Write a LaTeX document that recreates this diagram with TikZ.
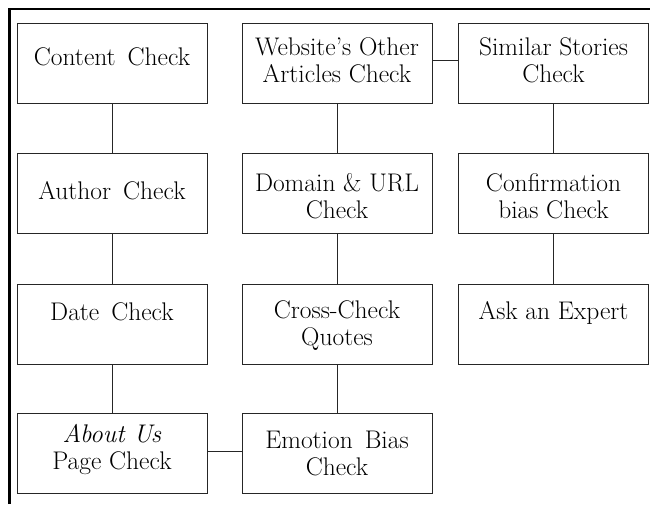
\documentclass[tikz,border=0pt]{standalone}
\begin{document}
\begin{tikzpicture}[x=1pt,y=-1pt,
  box/.style={draw=black!85,line width=0.8pt,minimum width=190pt,minimum height=80pt,inner sep=0pt},
  txt/.style={align=center,inner sep=0pt,font=\fontsize{25.5}{27}\selectfont},
  conn/.style={draw=black!85,line width=0.8pt},
  frame/.style={draw=black,line width=2.6pt}]
\useasboundingbox (0,0) rectangle (650,504);
\coordinate (fb) at (9.5,504);
\coordinate (fc) at (9.5,9);
\coordinate (fr) at (650,9);
\draw[frame] (fb) -- (fc) -- (fr);
\newcommand\bx[4]{\node[box] (#1) at (#2) {};\node[txt] (#1t) at ([yshift=#3]#1.center) {#4};}
\bx{content}{112,63}{6pt}{Content\ \,Check}
\bx{author}{112,193}{2pt}{Author\ \,Check}
\bx{date}{112,324}{12pt}{Date\ \,Check}
\bx{about}{112,453.5}{4pt}{\textit{About Us}\\Page Check}
\bx{website}{337,63}{3pt}{Website's Other\\Articles Check}
\bx{domain}{337,193}{-3pt}{Domain \& URL\\Check}
\bx{cross}{337,324}{-2pt}{Cross-Check\\Quotes}
\bx{emotion}{337,453.5}{0pt}{Emotion\ \,Bias\\Check}
\bx{similar}{553.5,63}{3pt}{Similar Stories\\Check}
\bx{confirm}{553.5,193}{-3pt}{Confirmation\\bias Check}
\bx{expert}{553.5,324}{11pt}{Ask an Expert}
\draw[conn] (content) -- (author);
\draw[conn] (author) -- (date);
\draw[conn] (date) -- (about);
\draw[conn] ([yshift=2pt]about.east) -- ([yshift=2pt]emotion.west);
\draw[conn] (emotion) -- (cross);
\draw[conn] (cross) -- (domain);
\draw[conn] (domain) -- (website);
\draw[conn] ([yshift=3pt]website.east) -- ([yshift=3pt]similar.west);
\draw[conn] (similar) -- (confirm);
\draw[conn] (confirm) -- (expert);
\end{tikzpicture}
\end{document}
